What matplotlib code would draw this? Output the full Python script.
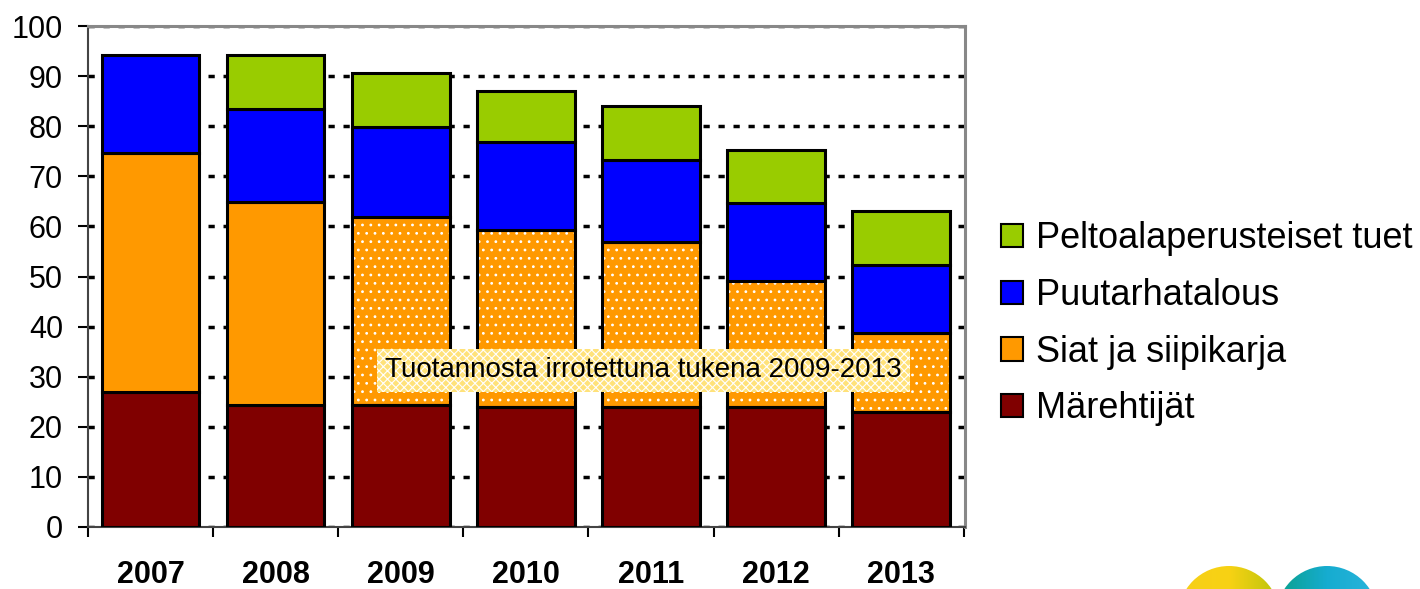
import numpy as np
import matplotlib
matplotlib.use("Agg")
import matplotlib.pyplot as plt
from matplotlib.patches import Patch, Circle

plt.rcParams['font.family'] = ['Liberation Sans', 'DejaVu Sans']
plt.rcParams['lines.scale_dashes'] = False
plt.rcParams['hatch.linewidth'] = 0.8

# data
years = ['2007', '2008', '2009', '2010', '2011', '2012', '2013']
marehtijat = [27.0, 24.4, 24.4, 24.0, 24.0, 24.0, 23.0]
siat = [47.6, 40.5, 37.5, 35.3, 32.9, 25.1, 15.7]
puutarha = [19.6, 18.5, 17.9, 17.5, 16.4, 15.6, 13.6]
pelto = [0.0, 10.8, 10.8, 10.2, 10.7, 10.5, 10.8]
hatched = [False, False, True, True, True, True, True]  # decoupled support 2009-2013

labels = ['Peltoalaperusteiset tuet', 'Puutarhatalous', 'Siat ja siipikarja', 'Märehtijät']
colors = ['#99cc00', '#0000ff', '#ff9900', '#800000']
note = 'Tuotannosta irrotettuna tukena 2009-2013'

fig = plt.figure(figsize=(14.2, 5.89), dpi=100)
ax = fig.add_axes([88/1420, 62/589, 877/1420, 501/589])

x = np.arange(len(years))
w = 0.78
edge = dict(edgecolor='black', linewidth=2.2, zorder=3)

b1 = np.array(marehtijat)
b2 = b1 + np.array(siat)
b3 = b2 + np.array(puutarha)

ax.bar(x, marehtijat, w, color=colors[3], **edge)

# orange segment: plain fill, white dots where hatched, then black outline
for i in range(len(years)):
    if hatched[i]:
        ax.bar(x[i], siat[i], w, bottom=b1[i], color=colors[2], hatch='..',
               edgecolor='white', linewidth=0, zorder=2.5)
        ax.bar(x[i], siat[i], w, bottom=b1[i], fill=False, **edge)
    else:
        ax.bar(x[i], siat[i], w, bottom=b1[i], color=colors[2], **edge)

ax.bar(x, puutarha, w, bottom=b2, color=colors[1], **edge)
for i in range(len(years)):
    if pelto[i] > 0:
        ax.bar(x[i], pelto[i], w, bottom=b3[i], color=colors[0], **edge)

ax.set_xlim(-0.49, len(years) - 0.49)
ax.set_ylim(0, 100)
ax.set_yticks(np.arange(0, 101, 10))
ax.tick_params(axis='y', length=7, width=1.5, pad=11, labelsize=22, direction='out')
ax.set_xticks(x)
ax.set_xticklabels(years, fontsize=22, fontweight='bold')
ax.set_xticks(np.arange(-0.5, len(years)), minor=True)
ax.tick_params(axis='x', which='major', length=0, pad=24)
ax.tick_params(axis='x', which='minor', length=7, width=1.5, direction='out')

ax.yaxis.grid(True, color='black', linewidth=2.5, linestyle=(0, (4.5, 6.3)), zorder=1)
ax.set_axisbelow(True)

for s in ['left', 'bottom']:
    ax.spines[s].set_color('#444444')
    ax.spines[s].set_linewidth(1.5)
for s in ['top', 'right']:
    ax.spines[s].set_color('#888888')
    ax.spines[s].set_linewidth(2.2)

ax.text(3.94, 31.3, note, fontsize=20, ha='center', va='center', zorder=5,
        bbox=dict(boxstyle='square,pad=0.3', facecolor='#ffe27a', edgecolor='white',
                  linewidth=0, hatch='xxxx'))

handles = [Patch(facecolor=c, edgecolor='black', linewidth=1.5) for c in colors]
fig.legend(handles, labels, loc='center left', bbox_to_anchor=(968/1420, 0.45),
           frameon=False, fontsize=26, handlelength=0.61, handleheight=0.61,
           handletextpad=0.36, labelspacing=0.6)

# logo circles at bottom right, cut off by the figure edge
lax = fig.add_axes([0, 0, 1, 1], zorder=-1)
lax.axis('off')
logo = [((1229, 617), 51, ['#f6cf18', '#f8d214', '#b9c40c']),
        ((1327, 617), 51, ['#0aa08a', '#16acd0', '#2ab4dc'])]
for (cx, cy), r, cols in logo:
    grad = np.linspace(0, 1, 256)
    cmap = matplotlib.colors.LinearSegmentedColormap.from_list('g', cols)
    im = lax.imshow(grad[None, :], cmap=cmap, aspect='auto',
                    extent=(cx - r, cx + r, cy + r, cy - r))
    circ = Circle((cx, cy), r, transform=lax.transData, facecolor='none', edgecolor='none')
    lax.add_patch(circ)
    im.set_clip_path(circ)
lax.set_xlim(0, 1420)
lax.set_ylim(589, 0)

fig.savefig('out.png', dpi=100)
